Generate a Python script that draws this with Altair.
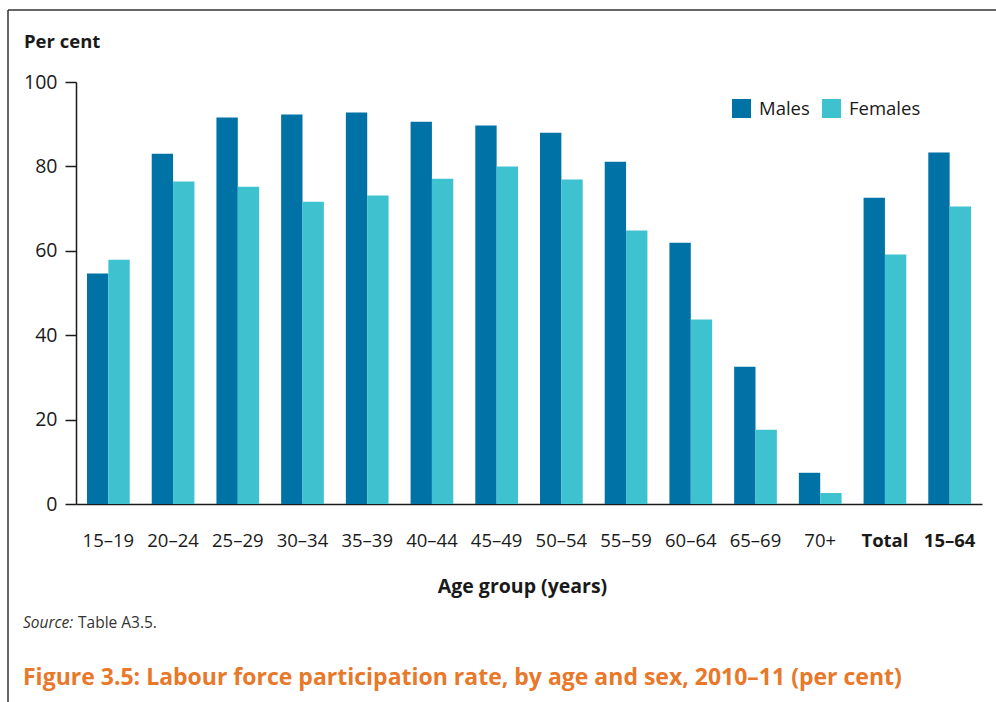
import altair as alt
import pandas as pd

# Labour force participation rate (per cent), 2010–11
age_groups = ["15–19", "20–24", "25–29", "30–34", "35–39", "40–44", "45–49",
              "50–54", "55–59", "60–64", "65–69", "70+", "Total", "15–64"]
males = [54.6, 83.0, 91.6, 92.3, 92.8, 90.6, 89.7, 88.0, 81.1, 61.9, 32.5, 7.4, 72.6, 83.3]
females = [57.9, 76.4, 75.2, 71.6, 73.1, 77.1, 80.0, 76.9, 64.8, 43.7, 17.6, 2.6, 59.1, 70.5]
sexes = ["Males", "Females"]
sex_colors = ["#0072A5", "#3FC2D0"]
y_ticks = [0, 20, 40, 60, 80, 100]

y_label = "Per cent"
x_label = "Age group (years)"
source_lead = "Source:"
source_text = "Table A3.5."
figure_title = "Figure 3.5: Labour force participation rate, by age and sex, 2010–11 (per cent)"

FONT = "Open Sans"
INK = "#1a1a1a"

df = pd.DataFrame(
    [{"Age group": a, "Sex": "Males", "Rate": m} for a, m in zip(age_groups, males)]
    + [{"Age group": a, "Sex": "Females", "Rate": f} for a, f in zip(age_groups, females)]
)

W, H = 906, 422
LEFT, TOP = 76, 82

bars = alt.Chart(df).mark_bar().encode(
    x=alt.X(
        "Age group:N",
        sort=age_groups,
        scale=alt.Scale(paddingInner=0.34, paddingOuter=0.17),
        axis=alt.Axis(
            title=x_label,
            titleFont=FONT,
            titleFontSize=19.5,
            titleFontWeight="bold",
            titleColor=INK,
            titlePadding=28,
            titleX=446,
            titleAlign="center",
            labelAngle=0,
            labelFont=FONT,
            labelFontSize=18.5,
            labelColor=INK,
            labelPadding=27,
            labelFontWeight=alt.expr(
                "datum.label == 'Total' || datum.label == '15–64' ? 'bold' : 'normal'"
            ),
            ticks=False,
            domainColor=INK,
            domainWidth=1.5,
        ),
    ),
    xOffset=alt.XOffset("Sex:N", sort=sexes),
    y=alt.Y(
        "Rate:Q",
        scale=alt.Scale(domain=[0, 100], nice=False),
        axis=alt.Axis(
            title=None,
            values=y_ticks,
            grid=False,
            labelFont=FONT,
            labelFontSize=19.5,
            labelColor=INK,
            labelPadding=8,
            tickSize=11,
            tickColor=INK,
            tickWidth=1.5,
            domainColor=INK,
            domainWidth=1.5,
        ),
    ),
    color=alt.Color(
        "Sex:N",
        scale=alt.Scale(domain=sexes, range=sex_colors),
        legend=alt.Legend(
            title=None,
            orient="none",
            legendX=656,
            legendY=17,
            direction="horizontal",
            symbolType="square",
            symbolSize=361,
            symbolStrokeWidth=0,
            symbolOpacity=1,
            labelFont=FONT,
            labelFontSize=18.5,
            labelColor=INK,
            labelOffset=8,
            columnPadding=12,
            padding=0,
        ),
    ),
)

one = alt.Data(values=[{}])

# frame: top edge and left edge
frame_top = alt.Chart(one).mark_rule(color="#333333", strokeWidth=1.5).encode(
    x=alt.value(8 - LEFT), x2=alt.value(996 - LEFT), y=alt.value(10 - TOP)
)
frame_left = alt.Chart(one).mark_rule(color="#333333", strokeWidth=1.5).encode(
    x=alt.value(8 - LEFT), y=alt.value(10 - TOP), y2=alt.value(702 - TOP)
)

y_title = alt.Chart(one).mark_text(
    font=FONT, fontSize=18.5, fontWeight="bold", color=INK, align="left", baseline="middle"
).encode(x=alt.value(24 - LEFT), y=alt.value(42 - TOP), text=alt.value(y_label))

source_a = alt.Chart(one).mark_text(
    font=FONT, fontSize=15.5, fontStyle="italic", color="#333333", align="left", baseline="alphabetic"
).encode(x=alt.value(23 - LEFT), y=alt.value(628 - TOP), text=alt.value(source_lead))

source_b = alt.Chart(one).mark_text(
    font=FONT, fontSize=15.5, color="#333333", align="left", baseline="alphabetic"
).encode(x=alt.value(78 - LEFT), y=alt.value(628 - TOP), text=alt.value(source_text))

fig_title = alt.Chart(one).mark_text(
    font=FONT, fontSize=23, fontWeight="bold", color="#E8782A", align="left", baseline="alphabetic"
).encode(x=alt.value(23 - LEFT), y=alt.value(685 - TOP), text=alt.value(figure_title))

chart = (
    alt.layer(bars, frame_top, frame_left, y_title, source_a, source_b, fig_title)
    .properties(
        width=W,
        height=H,
        autosize=alt.AutoSizeParams(type="none"),
        padding={"left": LEFT, "top": TOP, "right": 996 - LEFT - W, "bottom": 702 - TOP - H},
        background="white",
    )
    .configure_view(stroke=None)
)

chart.save("out.html", embed_options={"renderer": "svg", "actions": False})
